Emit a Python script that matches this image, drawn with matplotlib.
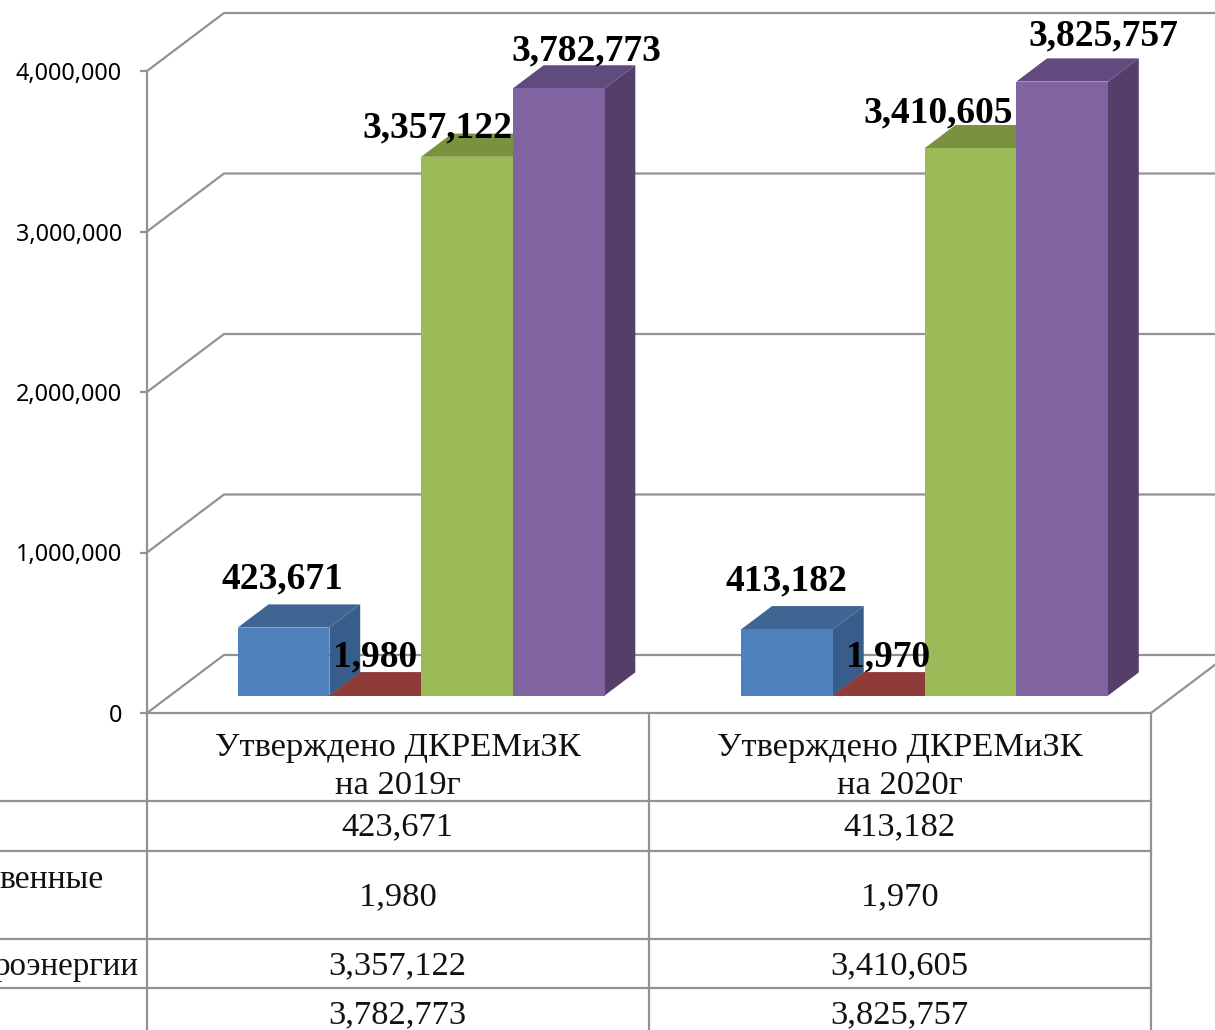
import matplotlib
matplotlib.use('Agg')
import matplotlib.pyplot as plt
from matplotlib.lines import Line2D
from matplotlib.patches import Polygon

W, H = 1215, 1030

categories = ['Утверждено ДКРЕМиЗК\nна 2019г', 'Утверждено ДКРЕМиЗК\nна 2020г']
series_a = [423671, 413182]
series_b = [1980, 1970]
series_c = [3357122, 3410605]
series_d = [3782773, 3825757]
yticks = [0, 1000000, 2000000, 3000000, 4000000]
row_headers = ['', 'венные', 'роэнергии', '']

all_series = [series_a, series_b, series_c, series_d]
front_cols = ['#4f81bd', '#8e3b3a', '#9bbb59', '#8064a2']
top_cols = ['#3f6592', '#8e3b3a', '#7a9140', '#614a7e']
side_cols = ['#385d8a', '#6f2e2d', '#6a7f38', '#533f6a']
grid_col = '#929292'

# hand placed labels, pixels from the middle of the bar's top front edge
label_off = [[(-1, 49), (0, 38), (-30, 29), (28, 37)],
             [(-1, 48), (9, 38), (-32, 35), (41, 46)]]
group_pos = [0, 1.003]

fig = plt.figure(figsize=(W / 100, H / 100), dpi=100)
fig.patch.set_facecolor('white')
ax = fig.add_axes([147 / W, 1 - 713 / H, (1151 - 147) / W, (713 - 71) / H])
ax.set_xlim(0, 2)
ax.set_ylim(0, 4000000)
ax.patch.set_alpha(0)
for s in ['top', 'right', 'bottom']:
    ax.spines[s].set_visible(False)
ax.spines['left'].set_color(grid_col)
ax.spines['left'].set_linewidth(1.6)
ax.set_xticks([])
ax.set_yticks(yticks)
ax.set_yticklabels([f'{v:,}' for v in yticks], family='Noto Sans', fontsize=16.8)
ax.tick_params(axis='y', color=grid_col, width=1.6, length=5, pad=13)

# depth of the fake 3d box in data units
DX = 77 / 502
DY = 58 / 642 * 4000000
D0, D1 = 0.3, 0.7
bar_w = 91.7 / 502
gap = (1 - 4 * bar_w) / 2


def proj(x, y, d):
    return (x + d * DX, y + d * DY)


# walls
for v in yticks:
    x0, y0 = proj(0, v, 0)
    x1, y1 = proj(0, v, 1)
    ax.plot([x0, x1, 2.2], [y0, y1, y1], color=grid_col, lw=1.6, clip_on=False, zorder=1)
ax.plot([2, 2 + DX], [0, DY], color=grid_col, lw=1.6, clip_on=False, zorder=1)

# bars
for c in range(len(categories)):
    for i, vals in enumerate(all_series):
        v = vals[c]
        xl = group_pos[c] + gap + i * bar_w
        xr = xl + bar_w
        z = 3 + i
        side = [proj(xr, 0, D0), proj(xr, v, D0), proj(xr, v, D1), proj(xr, 0, D1)]
        top = [proj(xl, v, D0), proj(xr, v, D0), proj(xr, v, D1), proj(xl, v, D1)]
        front = [proj(xl, 0, D0), proj(xr, 0, D0), proj(xr, v, D0), proj(xl, v, D0)]
        ax.add_patch(Polygon(side, fc=side_cols[i], ec='none', clip_on=False, zorder=z))
        ax.add_patch(Polygon(top, fc=top_cols[i], ec='none', clip_on=False, zorder=z))
        ax.add_patch(Polygon(front, fc=front_cols[i], ec='none', clip_on=False, zorder=z))
        ax.annotate(f'{v:,}', xy=proj((xl + xr) / 2, v, D0), xytext=label_off[c][i],
                    textcoords='offset pixels', ha='center', va='center',
                    family='Liberation Serif', fontweight='bold', fontsize=27,
                    color='black', zorder=20, annotation_clip=False)


# table under the chart
def fline(xs, ys):
    fig.add_artist(Line2D([x / W for x in xs], [1 - y / H for y in ys],
                          color=grid_col, lw=1.6))


rows = [713, 801, 851, 939, 988, 1030]
row_text_y = [827.5, 897.5, 966.5, 1015.5]
cols = [147, 649, 1151]
for x in cols:
    fline([x, x], [713, 1030])
fline([147, 1151], [713, 713])
for y in rows[1:5]:
    fline([0, 1151], [y, y])

for c, cat in enumerate(categories):
    cx = (cols[c] + cols[c + 1]) / 2 - 0.5
    fig.text(cx / W, 1 - 766.5 / H, cat, ha='center', va='center', family='Liberation Serif',
             fontsize=24.8, linespacing=1.3, color='#111111')
    for r, vals in enumerate(all_series):
        fig.text(cx / W, 1 - row_text_y[r] / H, f'{vals[c]:,}', ha='center', va='center',
                 family='Liberation Serif', fontsize=24.8, color='#111111')

# row headers are cut by the page edge in the original, keep the visible part
fig.text(104 / W, 1 - 880 / H, row_headers[1], ha='right', va='center',
         family='Liberation Serif', fontsize=24.3, color='#111111')
fig.text(138 / W, 1 - 967 / H, row_headers[2], ha='right', va='center',
         family='Liberation Serif', fontsize=23.8, color='#111111')

plt.savefig('out.png', dpi=100)
